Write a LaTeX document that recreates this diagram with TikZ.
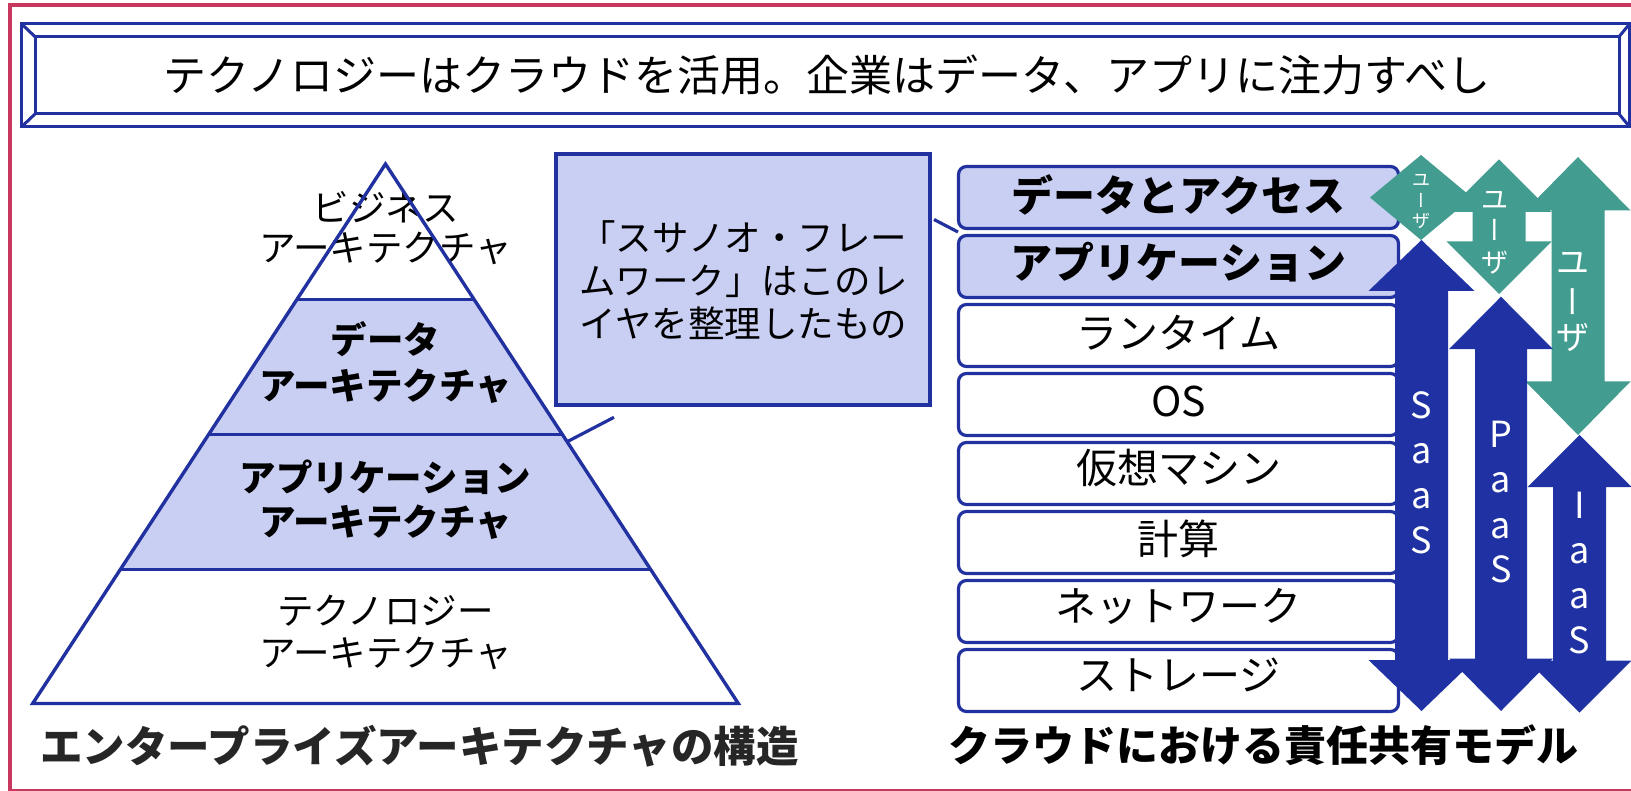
\documentclass[tikz,border=0pt]{standalone}
\usepackage{fontspec}
\setmainfont{Noto Sans CJK JP}
\newfontfamily\jpvert[RawFeature=+vert]{Noto Sans CJK JP}
\definecolor{dblue}{RGB}{33,50,160}
\definecolor{lfill}{RGB}{201,206,243}
\definecolor{tealc}{RGB}{66,156,144}
\definecolor{ablue}{RGB}{32,50,163}
\definecolor{fred}{RGB}{200,56,94}
\definecolor{capgray}{RGB}{38,38,38}
% vertical double arrow: colour, cx, top, bottom, head half width, head length, shaft half width
\newcommand{\vdarr}[7]{%
  \fill[#1] (#2,#3) -- ({#2+#5},{#3+#6}) -- ({#2+#7},{#3+#6}) -- ({#2+#7},{#4-#6})
    -- ({#2+#5},{#4-#6}) -- (#2,#4) -- ({#2-#5},{#4-#6}) -- ({#2-#7},{#4-#6})
    -- ({#2-#7},{#3+#6}) -- ({#2-#5},{#3+#6}) -- cycle;}
\tikzset{
  pline/.style={draw=dblue, line width=3.4pt, line join=miter},
  bline/.style={draw=dblue, line width=3pt},
  rowbox/.style={draw=dblue, line width=3.2pt, rounded corners=8pt, minimum width=440pt,
    minimum height=62pt, inner sep=0pt, fill=white},
  rowboxhl/.style={rowbox, fill=lfill},
  rowtxt/.style={inner sep=0pt, font=\fontsize{41}{41}\selectfont},
  rowtxtb/.style={inner sep=0pt, font=\fontsize{42}{42}\selectfont\bfseries},
  tiertxt/.style={inner sep=0pt, align=center},
  wlet/.style={text=white, inner sep=0pt, anchor=base, font=\fontsize{36}{36}\selectfont},
  ulet/.style={text=white, inner sep=0pt, anchor=center},
}
\begin{document}
\begin{tikzpicture}[x=1pt,y=-1pt]
\useasboundingbox (0,0) rectangle (1631,791);
% outer frame
\draw[fred, line width=4pt] (10,5) rectangle (1650,791);
% banner (bevel)
\coordinate (bo1) at (21.7,24); \coordinate (bo2) at (1629.5,24);
\coordinate (bo3) at (1629.5,126.7); \coordinate (bo4) at (21.7,126.7);
\coordinate (bi1) at (35,36.7); \coordinate (bi2) at (1619,36.7);
\coordinate (bi3) at (1619,114); \coordinate (bi4) at (35,114);
\draw[bline] (bo1) -- (bo2) -- (bo3) -- (bo4) -- cycle;
\draw[bline] (bi1) -- (bi2) -- (bi3) -- (bi4) -- cycle;
\draw[bline] (bo1) -- (bi1); \draw[bline] (bo2) -- (bi2);
\draw[bline] (bo3) -- (bi3); \draw[bline] (bo4) -- (bi4);
\node[inner sep=0pt, font=\fontsize{43}{43}\selectfont] (banner) at (827,75)
  {テクノロジーはクラウドを活用。企業はデータ、アプリに注力すべし};
% pyramid
\coordinate (pA) at (385.5,164);
\coordinate (pL1) at (297,299.3); \coordinate (pR1) at (474,299.3);
\coordinate (pL2) at (208.6,434.5); \coordinate (pR2) at (562.4,434.5);
\coordinate (pL3) at (120.4,569.3); \coordinate (pR3) at (650.6,569.3);
\coordinate (pL4) at (32.7,703.5); \coordinate (pR4) at (738.3,703.5);
\fill[lfill] (pL1) -- (pR1) -- (pR3) -- (pL3) -- cycle;
\node[tiertxt, font=\fontsize{36.5}{40}\selectfont] (tier1) at (385.5,228) {ビジネス\\アーキテクチャ};
\node[tiertxt, font=\fontsize{36.5}{46}\selectfont\bfseries] (tier2) at (385.5,363) {データ\\アーキテクチャ};
\node[tiertxt, font=\fontsize{36.5}{44}\selectfont\bfseries] (tier3) at (385.5,500) {アプリケーション\\アーキテクチャ};
\node[tiertxt, font=\fontsize{36.5}{42}\selectfont] (tier4) at (385.5,632.5) {テクノロジー\\アーキテクチャ};
\draw[pline] (pA) -- (pR4) -- (pL4) -- cycle;
\draw[pline] (pL1) -- (pR1);
\draw[pline] (pL2) -- (pR2);
\draw[pline] (pL3) -- (pR3);
\node[inner sep=0pt, text=capgray, font=\fontsize{42.5}{42.5}\selectfont\bfseries] (capL) at (419.5,746)
  {エンタープライズアーキテクチャの構造};
% callout
\node[draw=dblue, line width=4pt, fill=lfill, minimum width=374pt, minimum height=251pt,
  inner sep=0pt, align=center, font=\fontsize{36.5}{43.3}\selectfont] (callout) at (743.3,280)
  {「スサノオ・フレー\\ムワーク」はこのレ\\イヤを整理したもの};
\coordinate (lk1a) at (567.2,441.7); \coordinate (lk1b) at (614,417.3);
\coordinate (lk2a) at (934,219.5); \coordinate (lk2b) at (958,232);
\draw[pline, line width=3.2pt] (lk1a) -- (lk1b);
\draw[pline, line width=3.2pt] (lk2a) -- (lk2b);
% stack
\node[rowboxhl] (r1) at (1178.5,197.5) {};
\node[rowboxhl] (r2) at (1178.5,266.5) {};
\node[rowbox] (r3) at (1178.5,335.5) {};
\node[rowbox] (r4) at (1178.5,404.5) {};
\node[rowbox] (r5) at (1178.5,473.5) {};
\node[rowbox] (r6) at (1178.5,542.5) {};
\node[rowbox] (r7) at (1178.5,611.5) {};
\node[rowbox] (r8) at (1178.5,680.5) {};
\node[rowtxtb] (rt1) at ([yshift=3pt]r1.center) {データとアクセス};
\node[rowtxtb] (rt2) at ([yshift=4pt]r2.center) {アプリケーション};
\node[rowtxt] (rt3) at ([yshift=3pt]r3.center) {ランタイム};
\node[rowtxt] (rt4) at ([yshift=3pt]r4.center) {OS};
\node[rowtxt] (rt5) at ([yshift=5pt]r5.center) {仮想マシン};
\node[rowtxt] (rt6) at ([yshift=4pt]r6.center) {計算};
\node[rowtxt] (rt7) at ([yshift=5pt]r7.center) {ネットワーク};
\node[rowtxt] (rt8) at ([yshift=6pt]r8.center) {ストレージ};
\node[inner sep=0pt, font=\fontsize{42}{42}\selectfont\bfseries] (capR) at (1263,745)
  {クラウドにおける責任共有モデル};
% arrows
\vdarr{tealc}{1421}{155}{240}{51}{42.5}{26}
\vdarr{tealc}{1499}{159.3}{294}{52.5}{52.5}{26.5}
\vdarr{tealc}{1578}{157}{435}{52.5}{53.5}{26.5}
\vdarr{ablue}{1421.5}{240}{711}{53}{51}{26.5}
\vdarr{ablue}{1501}{296.7}{711}{52}{52.5}{26}
\vdarr{ablue}{1579.5}{435}{712.7}{52}{52}{26.5}
% arrow texts
\node[ulet, font=\fontsize{18}{18}\selectfont] (ua1) at (1421,180) {ユ};
\node[ulet, font=\fontsize{18}{18}\jpvert] (ua2) at (1421,200) {ー};
\node[ulet, font=\fontsize{18}{18}\selectfont] (ua3) at (1421,221) {ザ};
\node[ulet, font=\fontsize{27}{27}\selectfont] (ub1) at (1495,200) {ユ};
\node[ulet, font=\fontsize{27}{27}\jpvert] (ub2) at (1495,230) {ー};
\node[ulet, font=\fontsize{27}{27}\selectfont] (ub3) at (1495,263) {ザ};
\node[ulet, font=\fontsize{33}{33}\selectfont] (uc1) at (1573,263.5) {ユ};
\node[ulet, font=\fontsize{33}{33}\jpvert] (uc2) at (1573,301.7) {ー};
\node[ulet, font=\fontsize{33}{33}\selectfont] (uc3) at (1573,337.5) {ザ};
\node[wlet] (sa1) at (1421.5,418.3) {S};
\node[wlet] (sa2) at (1421.5,463.3) {a};
\node[wlet] (sa3) at (1421.5,508.3) {a};
\node[wlet] (sa4) at (1421.5,553.3) {S};
\node[wlet] (pa1) at (1501,448) {P};
\node[wlet] (pa2) at (1501,493) {a};
\node[wlet] (pa3) at (1501,538) {a};
\node[wlet] (pa4) at (1501,582) {S};
\node[wlet] (ia1) at (1579.5,518.3) {I};
\node[wlet] (ia2) at (1579.5,563.3) {a};
\node[wlet] (ia3) at (1579.5,608.3) {a};
\node[wlet] (ia4) at (1579.5,653.3) {S};
\end{tikzpicture}
\end{document}
